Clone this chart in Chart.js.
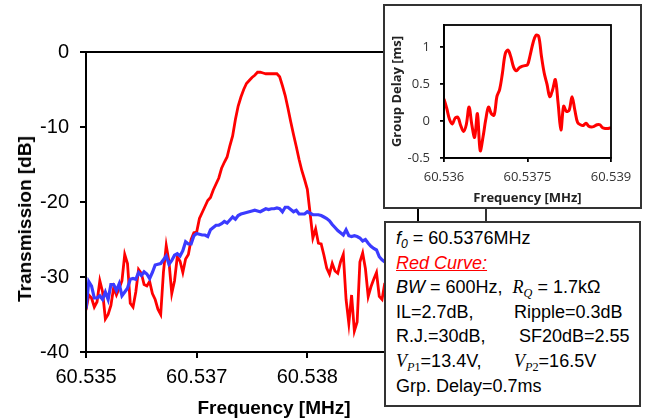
<!DOCTYPE html>
<html>
<head>
<meta charset="utf-8">
<script src="https://cdn.jsdelivr.net/npm/chart.js@4.4.1/dist/chart.umd.min.js"></script>
<style>
  body { margin: 0; background: #fff; }
  #wrap { position: relative; width: 652px; height: 419px; background: #fff; overflow: hidden; }
  #main { position: absolute; left: 0; top: 0; }
  .axis-title { position: absolute; font: bold 19px "Liberation Sans", Arial, sans-serif; color: #000; white-space: nowrap; }
  #ytitle { left: 25px; top: 219px; transform: translate(-50%, -50%) rotate(-90deg); }
  #xtitle { left: 274px; top: 408px; transform: translate(-50%, -50%); }
  .box { position: absolute; border: 2px solid #333; background: #fff; }
  #inset { left: 383px; top: 4px; width: 255px; height: 201px; }
  #inset canvas { position: absolute; left: 0; top: 0; }
  #conn { position: absolute; left: 485px; top: 209px; width: 2px; height: 13px; background: #333; }
  #info { left: 384px; top: 221px; width: 243px; height: 179px; padding: 3px 0 0 10px;
          font: 18px "Liberation Sans", Arial, sans-serif; color: #000; line-height: 24.6px; white-space: nowrap; }
  #info sub { font-size: 0.68em; line-height: 0; vertical-align: -0.3em; }
  .m { font-family: "Liberation Serif", "Times New Roman", serif; }
  .c1 { display: inline-block; width: 118px; }
  .red { color: #ff0000; font-style: italic; text-decoration: underline; }
</style>
</head>
<body>
<div id="wrap">
  <canvas id="main" width="652" height="419"></canvas>
  <div class="axis-title" id="ytitle">Transmission [dB]</div>
  <div class="axis-title" id="xtitle">Frequency [MHz]</div>
  <div class="box" id="inset"><canvas id="delay" width="255" height="201"></canvas></div>
  <div id="conn"></div>
  <div class="box" id="info">
    <div><i>f<sub>0</sub></i> = 60.5376MHz</div>
    <div class="red">Red Curve:</div>
    <div><i>BW</i> = 600Hz,&nbsp; <span class="m"><i>R</i><sub><i>Q</i></sub></span> = 1.7kΩ</div>
    <div><span class="c1">IL=2.7dB,</span>Ripple=0.3dB</div>
    <div><span class="c1">R.J.=30dB,</span>&nbsp;SF20dB=2.55</div>
    <div><span class="c1"><span class="m"><i>V</i><sub><i>P</i>1</sub></span>=13.4V,</span><span class="m"><i>V</i><sub><i>P</i>2</sub></span>=16.5V</div>
    <div>Grp. Delay=0.7ms</div>
  </div>
</div>
<script>
// main plot: transmission, frequency grid starts at 60.536 MHz, 25 Hz apart
const mainFreqStart = 60.536;
const mainFreqStep = 0.000025;

const redCurve = [
  -34.4, -32.4, -32.8, -34.0, -33.3, -30.5, -32.0, -35.6, -35.0, -33.8,
  -31.4, -32.4, -31.5, -30.5, -27.0, -28.2, -33.5, -34.0, -32.0, -29.0,
  -29.5, -31.0, -31.2, -30.6, -32.2, -33.0, -34.3, -35.0, -29.3, -25.8,
  -28.0, -32.2, -30.5, -27.3, -27.9, -29.4, -27.6, -27.0, -25.0, -24.1,
  -24.0, -22.2, -21.4, -20.6, -19.8, -19.4, -18.4, -17.6, -16.8, -15.5,
  -14.7, -14.0, -12.5, -11.2, -9.0, -7.2, -6.0, -5.0, -4.2, -3.8,
  -3.4, -3.1, -2.7, -2.7, -2.8, -2.9, -2.9, -2.9, -2.9, -2.9,
  -3.3, -4.5, -5.8, -7.5, -9.3, -11.0, -12.6, -14.3, -15.8, -17.0,
  -18.3, -21.5, -24.8, -23.6, -25.5, -25.6, -27.1, -28.8, -29.6, -28.2,
  -29.2, -29.5, -28.0, -27.0, -33.0, -36.2, -32.4, -37.2, -36.0, -28.0,
  -26.8, -28.9, -32.6, -31.3, -30.3, -29.4, -32.6, -33.0, -30.8
];

const blueCurve = [
  -34.2, -30.6, -31.2, -32.8, -32.8, -32.5, -33.0, -32.0, -33.0, -31.0,
  -31.0, -31.8, -30.9, -32.5, -32.0, -31.5, -30.3, -30.2, -30.3, -29.4,
  -29.8, -29.3, -29.6, -30.2, -29.4, -28.4, -28.3, -28.2, -27.7, -27.2,
  -28.3, -27.8, -27.1, -26.9, -27.2, -26.5, -25.3, -25.6, -25.6, -24.5,
  -24.2, -24.3, -24.4, -24.4, -24.6, -23.7, -23.4, -23.1, -23.1, -22.9,
  -22.6, -22.8, -22.4, -22.0, -22.3, -21.8, -21.6, -21.5, -21.4, -21.3,
  -21.2, -21.1, -21.2, -21.3, -21.1, -20.9, -21.0, -20.9, -20.9, -20.8,
  -20.9, -21.3, -20.7, -20.7, -21.0, -21.3, -21.1, -21.6, -21.6, -21.6,
  -21.3, -21.5, -21.7, -21.7, -21.7, -21.8, -22.0, -22.2, -22.5, -23.0,
  -23.4, -23.8, -24.1, -24.4, -23.7, -24.5, -24.6, -24.5, -24.6, -24.8,
  -25.2, -25.0, -25.5, -25.9, -26.2, -26.4, -27.3, -27.7, -28.0
];

const mainXTicks = [60.536, 60.537, 60.538, 60.539];
const mainXTickLabels = ['60.535', '60.537', '60.538', '60.539'];
const mainYTicks = [-40, -30, -20, -10, 0];

// inset: group delay, grid starts at 60.536 MHz, 50 Hz apart
const delayFreqStart = 60.536;
const delayFreqStep = 0.00005;

const groupDelay = [
  0.30, 0.17, 0.02, -0.04, 0.04, 0.05, -0.06, -0.14, -0.05, 0.19,
  -0.05, -0.22, 0.10, -0.40, -0.22, 0.02, 0.19, 0.10, 0.08, 0.33,
  0.43, 0.65, 0.91, 0.96, 0.87, 0.73, 0.68, 0.72, 0.74, 0.75,
  0.76, 0.90, 1.06, 1.16, 1.15, 0.88, 0.65, 0.50, 0.33, 0.42,
  0.56, 0.24, -0.12, 0.20, 0.13, 0.15, 0.33, 0.15, -0.02, -0.05,
  -0.06, -0.03, -0.07, -0.08, -0.07, -0.05, -0.05, -0.09, -0.10, -0.10,
  -0.09
];

const delayXTicks = [60.536, 60.5375, 60.539];
const delayXTickLabels = ['60.536', '60.5375', '60.539'];
const delayYTicks = [-0.5, 0, 0.5, 1];
const delayYTickLabels = ['-0.5', '0', '0.5', '1'];

function toPoints(values, start, step) {
  return values.map((v, i) => ({ x: start + i * step, y: v }));
}

// draws the box round the plot area
const frame = {
  id: 'frame',
  afterDraw(chart, args, opts) {
    const a = chart.chartArea;
    const ctx = chart.ctx;
    ctx.save();
    ctx.strokeStyle = '#000';
    ctx.lineWidth = opts.width || 2;
    ctx.strokeRect(a.left, a.top, a.right - a.left, a.bottom - a.top);
    ctx.restore();
  }
};

window.onload = function () {
  const mainFont = { family: '"Liberation Sans", Arial, sans-serif', size: 20 };

  new Chart(document.getElementById('main').getContext('2d'), {
    type: 'line',
    data: {
      datasets: [
        { data: toPoints(blueCurve, mainFreqStart, mainFreqStep), borderColor: '#3b3bff', borderWidth: 3.2 },
        { data: toPoints(redCurve, mainFreqStart, mainFreqStep), borderColor: '#ff0000', borderWidth: 2.8 }
      ]
    },
    options: {
      responsive: false,
      animation: false,
      layout: { padding: { left: 0, top: 52, right: 234, bottom: 0 } },
      elements: { point: { radius: 0 }, line: { tension: 0 } },
      plugins: { legend: { display: false }, tooltip: { enabled: false }, frame: { width: 2 } },
      scales: {
        x: {
          type: 'linear', min: 60.536, max: 60.539,
          afterBuildTicks: s => { s.ticks = mainXTicks.map(v => ({ value: v })); },
          afterFit: s => { s.height = 67; },
          ticks: { font: mainFont, color: '#000', padding: 7, maxRotation: 0,
                   callback: (v, i) => mainXTickLabels[i] },
          grid: { drawOnChartArea: false, tickLength: 6, color: '#000', lineWidth: 2 },
          border: { color: '#000', width: 2 }
        },
        y: {
          min: -40, max: 0,
          afterBuildTicks: s => { s.ticks = mainYTicks.map(v => ({ value: v })); },
          afterFit: s => { s.width = 86; },
          ticks: { font: mainFont, color: '#000', padding: 11 },
          grid: { drawOnChartArea: false, tickLength: 6, color: '#000', lineWidth: 2 },
          border: { color: '#000', width: 2 }
        }
      }
    },
    plugins: [frame]
  });

  const insetFont = { family: '"Open Sans", sans-serif', size: 13 };

  new Chart(document.getElementById('delay').getContext('2d'), {
    type: 'line',
    data: {
      datasets: [
        { data: toPoints(groupDelay, delayFreqStart, delayFreqStep), borderColor: '#ff0000', borderWidth: 3 }
      ]
    },
    options: {
      responsive: false,
      animation: false,
      layout: { padding: { left: 0, top: 19, right: 29, bottom: 0 } },
      elements: { point: { radius: 0 }, line: { tension: 0.35 } },
      plugins: { legend: { display: false }, tooltip: { enabled: false }, frame: { width: 1.8 } },
      scales: {
        x: {
          type: 'linear', min: 60.536, max: 60.539,
          afterBuildTicks: s => { s.ticks = delayXTicks.map(v => ({ value: v })); },
          afterFit: s => { s.height = 49; },
          ticks: { font: insetFont, color: '#333', padding: 7, maxRotation: 0,
                   callback: (v, i) => delayXTickLabels[i] },
          grid: { drawOnChartArea: false, tickLength: 4, color: '#000', lineWidth: 1.8 },
          border: { color: '#000', width: 1.8 },
          title: { display: true, text: 'Frequency [MHz]', color: '#222',
                   font: { family: '"Open Sans", sans-serif', size: 13, weight: 'bold' },
                   padding: { top: 1, bottom: 1 } }
        },
        y: {
          min: -0.5, max: 1.3,
          afterBuildTicks: s => { s.ticks = delayYTicks.map(v => ({ value: v })); },
          afterFit: s => { s.width = 59; },
          ticks: { font: insetFont, color: '#333', padding: 10,
                   callback: (v, i) => delayYTickLabels[i] },
          grid: { drawOnChartArea: false, tickLength: 4, color: '#000', lineWidth: 1.8 },
          border: { color: '#000', width: 1.8 },
          title: { display: true, text: 'Group Delay [ms]', color: '#222',
                   font: { family: '"Open Sans", sans-serif', size: 13, weight: 'bold' },
                   padding: { top: 4, bottom: 4 } }
        }
      }
    },
    plugins: [frame]
  });
};
</script>
</body>
</html>
